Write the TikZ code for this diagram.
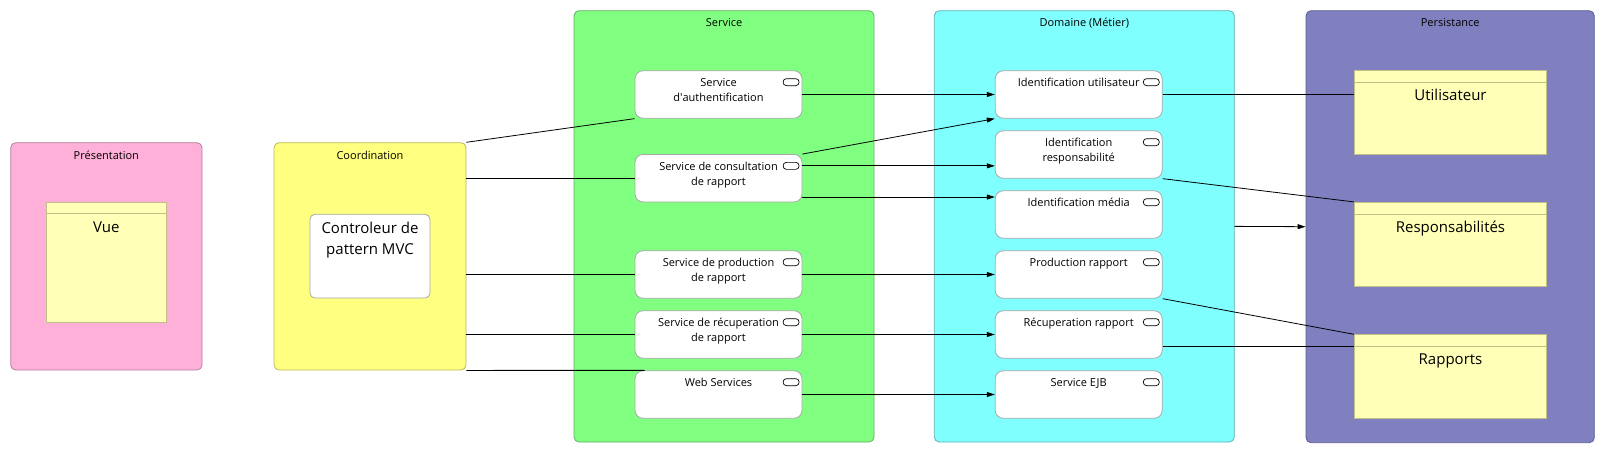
\documentclass[tikz,border=0pt]{standalone}
\usepackage{fontspec}
\setmainfont{Open Sans}
\usetikzlibrary{arrows.meta,calc}
\definecolor{presfill}{HTML}{FFB0D8}
\definecolor{presdraw}{HTML}{B07E98}
\definecolor{coordfill}{HTML}{FFFF80}
\definecolor{coorddraw}{HTML}{B8B860}
\definecolor{servfill}{HTML}{80FF80}
\definecolor{servdraw}{HTML}{60B060}
\definecolor{domfill}{HTML}{80FFFF}
\definecolor{domdraw}{HTML}{60B0B0}
\definecolor{persfill}{HTML}{8080C0}
\definecolor{persdraw}{HTML}{5C5C90}
\definecolor{clsfill}{HTML}{FFFFB8}
\definecolor{clsdraw}{HTML}{C0C088}
\definecolor{compdraw}{HTML}{A8A8A8}
\begin{document}
\begin{tikzpicture}[x=1pt,y=-1pt,
  cont/.style={draw, rounded corners=5pt, inner sep=0pt, line width=0.8pt},
  comp/.style={draw=compdraw, fill=white, rounded corners=8pt, minimum width=167pt, minimum height=47.5pt, inner sep=0pt, line width=0.8pt},
  icon/.style={draw=black, rounded corners=3.3pt, minimum width=16pt, minimum height=7pt, inner sep=0pt, line width=0.7pt},
  cls/.style={draw=clsdraw, fill=clsfill, inner sep=0pt, line width=0.8pt},
  ttl/.style={font=\fontsize{11}{13}\selectfont, inner sep=0pt},
  txt/.style={font=\fontsize{11}{15}\selectfont, align=center, inner sep=0pt, anchor=north},
  big/.style={font=\fontsize{15}{21}\selectfont, align=center, inner sep=0pt, anchor=north},
  arr/.style={-{Triangle[length=8pt,width=5pt]}, line width=0.8pt},
  con/.style={line width=0.8pt}]
\useasboundingbox (0,0) rectangle (1605,453);

% containers
\node[cont, draw=presdraw, fill=presfill, minimum width=191.3pt, minimum height=227.3pt] (pres) at (106.35,256.35) {};
\node[cont, draw=coorddraw, fill=coordfill, minimum width=192pt, minimum height=227.3pt] (coord) at (370,256.35) {};
\node[cont, draw=servdraw, fill=servfill, minimum width=300pt, minimum height=431.3pt] (serv) at (724,226.35) {};
\node[cont, draw=domdraw, fill=domfill, minimum width=300pt, minimum height=431.3pt] (dom) at (1084.3,226.35) {};
\node[cont, draw=persdraw, fill=persfill, minimum width=288.3pt, minimum height=432pt] (pers) at (1450.15,226.7) {};

\node[ttl] (pres-t) at ([yshift=-13pt]pres.north) {Présentation};
\node[ttl] (coord-t) at ([yshift=-13pt]coord.north) {Coordination};
\node[ttl] (serv-t) at ([yshift=-12.5pt]serv.north) {Service};
\node[ttl] (dom-t) at ([yshift=-12.5pt]dom.north) {Domaine (Métier)};
\node[ttl] (pers-t) at ([yshift=-12.5pt]pers.north) {Persistance};

% classes
\node[cls, minimum width=119.3pt, minimum height=120pt] (vue) at (106.35,262) {};
\draw[clsdraw, line width=0.8pt] ([yshift=-12pt]vue.north west) -- ([yshift=-12pt]vue.north east);
\node[big] (vue-t) at ([yshift=-20pt]vue.north) {Vue};

\node[cls, minimum width=192.4pt, minimum height=84pt] (util) at (1450.5,112.7) {};
\draw[clsdraw, line width=0.8pt] ([yshift=-11.6pt]util.north west) -- ([yshift=-11.6pt]util.north east);
\node[big] (util-t) at ([yshift=-19pt]util.north) {Utilisateur};

\node[cls, minimum width=192.4pt, minimum height=84pt] (resp) at (1450.5,244.3) {};
\draw[clsdraw, line width=0.8pt] ([yshift=-12pt]resp.north west) -- ([yshift=-12pt]resp.north east);
\node[big] (resp-t) at ([yshift=-19pt]resp.north) {Responsabilités};

\node[cls, minimum width=192.4pt, minimum height=83.6pt] (rapp) at (1450.5,376.5) {};
\draw[clsdraw, line width=0.8pt] ([yshift=-11.6pt]rapp.north west) -- ([yshift=-11.6pt]rapp.north east);
\node[big] (rapp-t) at ([yshift=-19pt]rapp.north) {Rapports};

% controller
\node[draw=compdraw, fill=white, rounded corners=5pt, line width=0.8pt, minimum width=120pt, minimum height=83.7pt, inner sep=0pt] (ctrl) at (370,256.15) {};
\node[big] (ctrl-t) at ([yshift=-8pt]ctrl.north) {Controleur de\\pattern MVC};

% service components
\node[comp] (auth) at (718.5,94.5) {};
\node[comp] (cons) at (718.5,178.2) {};
\node[comp] (prod) at (718.5,274.5) {};
\node[comp] (recup) at (718.5,334.5) {};
\node[comp] (web) at (718.5,394.5) {};
% domain components
\node[comp] (iduser) at (1078.7,94.5) {};
\node[comp] (idresp) at (1078.7,154.5) {};
\node[comp] (idmedia) at (1078.7,214.5) {};
\node[comp] (prodr) at (1078.7,274.5) {};
\node[comp] (recupr) at (1078.7,334.5) {};
\node[comp] (ejb) at (1078.7,394.5) {};

\foreach \n in {auth,cons,prod,recup,web,iduser,idresp,idmedia,prodr,recupr,ejb}
  \node[icon] (\n-i) at ([xshift=-11.3pt,yshift=-11.8pt]\n.north east) {};

\node[txt] (auth-t) at ([yshift=-7.5pt]auth.north) {Service\\d\textquotesingle authentification};
\node[txt] (cons-t) at ([yshift=-7.5pt]cons.north) {Service de consultation\\de rapport};
\node[txt] (prod-t) at ([yshift=-7.5pt]prod.north) {Service de production\\de rapport};
\node[txt] (recup-t) at ([yshift=-7.5pt]recup.north) {Service de récuperation\\de rapport};
\node[txt] (web-t) at ([yshift=-7.5pt]web.north) {Web Services};
\node[txt] (iduser-t) at ([yshift=-7.5pt]iduser.north) {Identification utilisateur};
\node[txt] (idresp-t) at ([yshift=-7.5pt]idresp.north) {Identification\\responsabilité};
\node[txt] (idmedia-t) at ([yshift=-7.5pt]idmedia.north) {Identification média};
\node[txt] (prodr-t) at ([yshift=-7.5pt]prodr.north) {Production rapport};
\node[txt] (recupr-t) at ([yshift=-7.5pt]recupr.north) {Récuperation rapport};
\node[txt] (ejb-t) at ([yshift=-7.5pt]ejb.north) {Service EJB};

% connectors coordination -> service
\draw[con] (coord.north east) -- (auth.south west);
\draw[con] (coord.east |- cons.west) -- (cons.west);
\draw[con] (coord.east |- prod.west) -- (prod.west);
\draw[con] (coord.east |- recup.west) -- (recup.west);
\coordinate (w1) at ([xshift=10pt]web.north west);
\draw[con] (coord.south east) -- (w1);

% service -> domain
\draw[arr] (auth.east) -- (iduser.west);
\draw[arr] (cons.north east) -- (iduser.south west);
\draw[arr] (cons.east |- cons-i.east) -- (idresp.west |- cons-i.east);
\coordinate (m1) at ([yshift=5.3pt]cons.south east);
\draw[arr] (m1) -- (m1 -| idmedia.west);
\draw[arr] (prod.east) -- (prodr.west);
\draw[arr] (recup.east) -- (recupr.west);
\draw[arr] (web.east) -- (ejb.west);

% domain -> persistence
\draw[con] (iduser.east) -- (iduser.east -| util.west);
\draw[con] (idresp.south east) -- (resp.north west);
\draw[arr] (dom.east) -- (pers.west);
\draw[con] (prodr.south east) -- (rapp.north west);
\coordinate (rh) at ([yshift=-11.6pt]rapp.north west);
\draw[con] (recupr.east |- rh) -- (rh);
\end{tikzpicture}
\end{document}
